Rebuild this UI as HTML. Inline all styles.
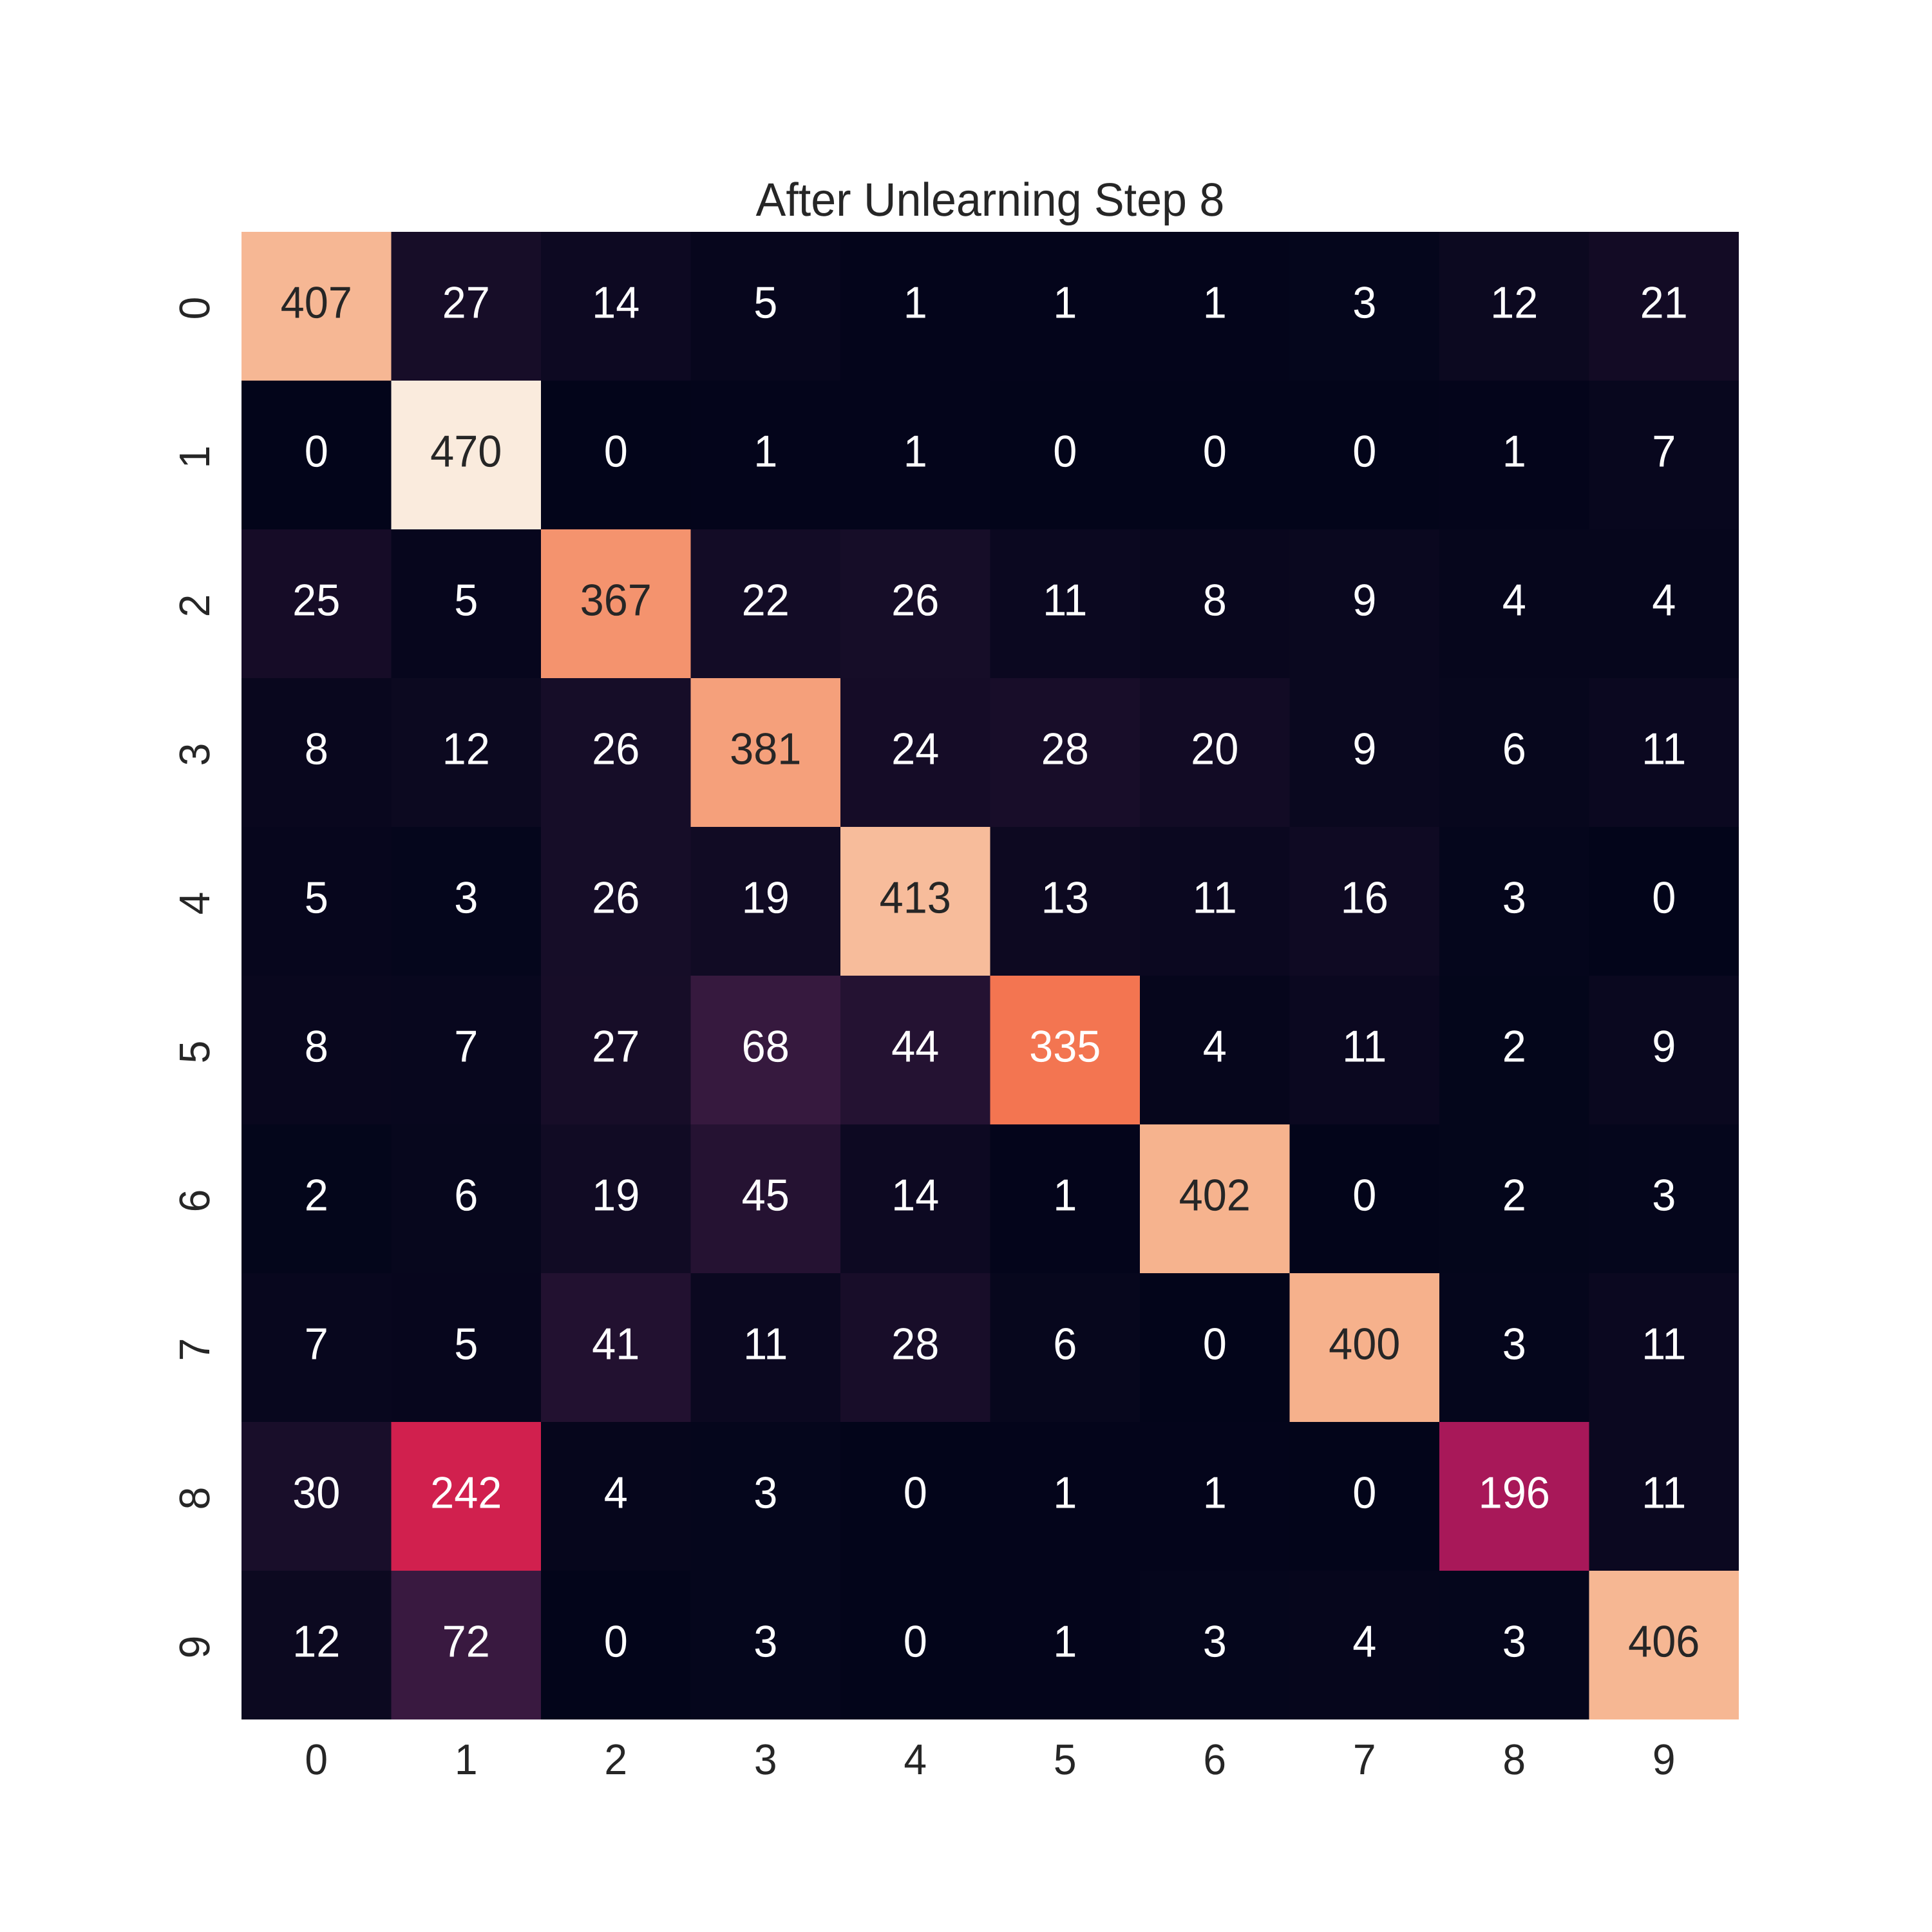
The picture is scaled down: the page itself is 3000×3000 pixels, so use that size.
<!DOCTYPE html>
<html>
<head>
<meta charset="utf-8">
<title>After Unlearning Step 8</title>
<style>
html,body{margin:0;padding:0;background:#fff;width:3000px;height:3000px;overflow:hidden}
svg{display:block}
text{font-family:"Liberation Sans",Arial,sans-serif;text-rendering:geometricPrecision}
</style>
</head>
<body>
<svg id="chart" xmlns="http://www.w3.org/2000/svg" width="3000" height="3000" viewBox="0 0 3000 3000">
<rect x="0" y="0" width="3000" height="3000" fill="#ffffff"/>
<text transform="translate(1537.5,335) scale(1,1.04)" font-size="70" fill="#262626" text-anchor="middle">After Unlearning Step 8</text>
<g id="cells" shape-rendering="crispEdges"></g>
<g id="annots"></g>
<g id="xticks"></g>
<g id="yticks"></g>
</svg>
<script>
const xTickLabels = ["0","1","2","3","4","5","6","7","8","9"];
const yTickLabels = ["0","1","2","3","4","5","6","7","8","9"];
const row0 = [407,27,14,5,1,1,1,3,12,21];
const row1 = [0,470,0,1,1,0,0,0,1,7];
const row2 = [25,5,367,22,26,11,8,9,4,4];
const row3 = [8,12,26,381,24,28,20,9,6,11];
const row4 = [5,3,26,19,413,13,11,16,3,0];
const row5 = [8,7,27,68,44,335,4,11,2,9];
const row6 = [2,6,19,45,14,1,402,0,2,3];
const row7 = [7,5,41,11,28,6,0,400,3,11];
const row8 = [30,242,4,3,0,1,1,0,196,11];
const row9 = [12,72,0,3,0,1,3,4,3,406];
const matrix = [row0,row1,row2,row3,row4,row5,row6,row7,row8,row9];

const NS = "http://www.w3.org/2000/svg";
const plotLeft = 375, plotRight = 2700, plotTop = 360, plotBottom = 2670;
const xScale = i => plotLeft + (plotRight - plotLeft) * i / xTickLabels.length;
const yScale = i => plotTop + (plotBottom - plotTop) * i / yTickLabels.length;

const flat = matrix.flat();
const vMin = Math.min(...flat);
const vMax = Math.max(...flat);

/* seaborn "rocket" colormap stops */
const rocket = [
  [0, 3, 5, 26], [1/7, 53, 25, 62], [2/7, 112, 31, 87], [3/7, 173, 23, 89],
  [0.515, 209, 32, 78], [4/7, 225, 51, 66], [5/7, 243, 118, 81], [6/7, 246, 180, 143], [1, 250, 235, 221]
];
function colorFor(v) {
  const t = vMax === vMin ? 0 : Math.max(0, Math.min(1, (v - vMin) / (vMax - vMin)));
  for (let k = 1; k < rocket.length; k++) {
    if (t <= rocket[k][0]) {
      const a = rocket[k-1], b = rocket[k];
      const f = (t - a[0]) / (b[0] - a[0]);
      return [1,2,3].map(c => Math.round(a[c] + (b[c] - a[c]) * f));
    }
  }
  return rocket[rocket.length-1].slice(1);
}
function luminance(rgb) {
  const l = rgb.map(c => { c /= 255; return c <= 0.03928 ? c / 12.92 : Math.pow((c + 0.055) / 1.055, 2.4); });
  return 0.2126 * l[0] + 0.7152 * l[1] + 0.0722 * l[2];
}

const cellsG = document.getElementById("cells");
const annotsG = document.getElementById("annots");
const xG = document.getElementById("xticks");
const yG = document.getElementById("yticks");

matrix.forEach((row, r) => {
  row.forEach((v, c) => {
    const rgb = colorFor(v);
    const rect = document.createElementNS(NS, "rect");
    
    
    rect.setAttribute("x", xScale(c));
    rect.setAttribute("y", yScale(r));
    rect.setAttribute("width", xScale(c + 1) - xScale(c));
    rect.setAttribute("height", yScale(r + 1) - yScale(r));
    rect.setAttribute("fill", `rgb(${rgb[0]},${rgb[1]},${rgb[2]})`);
    cellsG.appendChild(rect);

    const t = document.createElementNS(NS, "text");
    
    
    const cx = (xScale(c) + xScale(c + 1)) / 2;
    const cy = (yScale(r) + yScale(r + 1)) / 2 + 18;
    t.setAttribute("transform", `translate(${cx},${cy}) scale(1,1.04)`);
    t.setAttribute("font-size", "66.67");
    t.setAttribute("text-anchor", "middle");
    t.setAttribute("fill", luminance(rgb) < 0.408 ? "#ffffff" : "#262626");
    t.textContent = String(v);
    annotsG.appendChild(t);
  });
});

xTickLabels.forEach((label, i) => {
  const t = document.createElementNS(NS, "text");
  
  
  t.setAttribute("transform", `translate(${(xScale(i) + xScale(i + 1)) / 2},2755) scale(1,1.04)`);
  t.setAttribute("font-size", "64.17");
  t.setAttribute("text-anchor", "middle");
  t.setAttribute("fill", "#262626");
  t.textContent = label;
  xG.appendChild(t);
});

yTickLabels.forEach((label, i) => {
  const cy = (yScale(i) + yScale(i + 1)) / 2;
  const t = document.createElementNS(NS, "text");
  
  
  t.setAttribute("transform", `translate(325,${cy + 3}) rotate(-90) scale(1,1.04)`);
  t.setAttribute("font-size", "64.17");
  t.setAttribute("text-anchor", "middle");
  t.setAttribute("fill", "#262626");
  t.textContent = label;
  yG.appendChild(t);
});
</script>
</body>
</html>
